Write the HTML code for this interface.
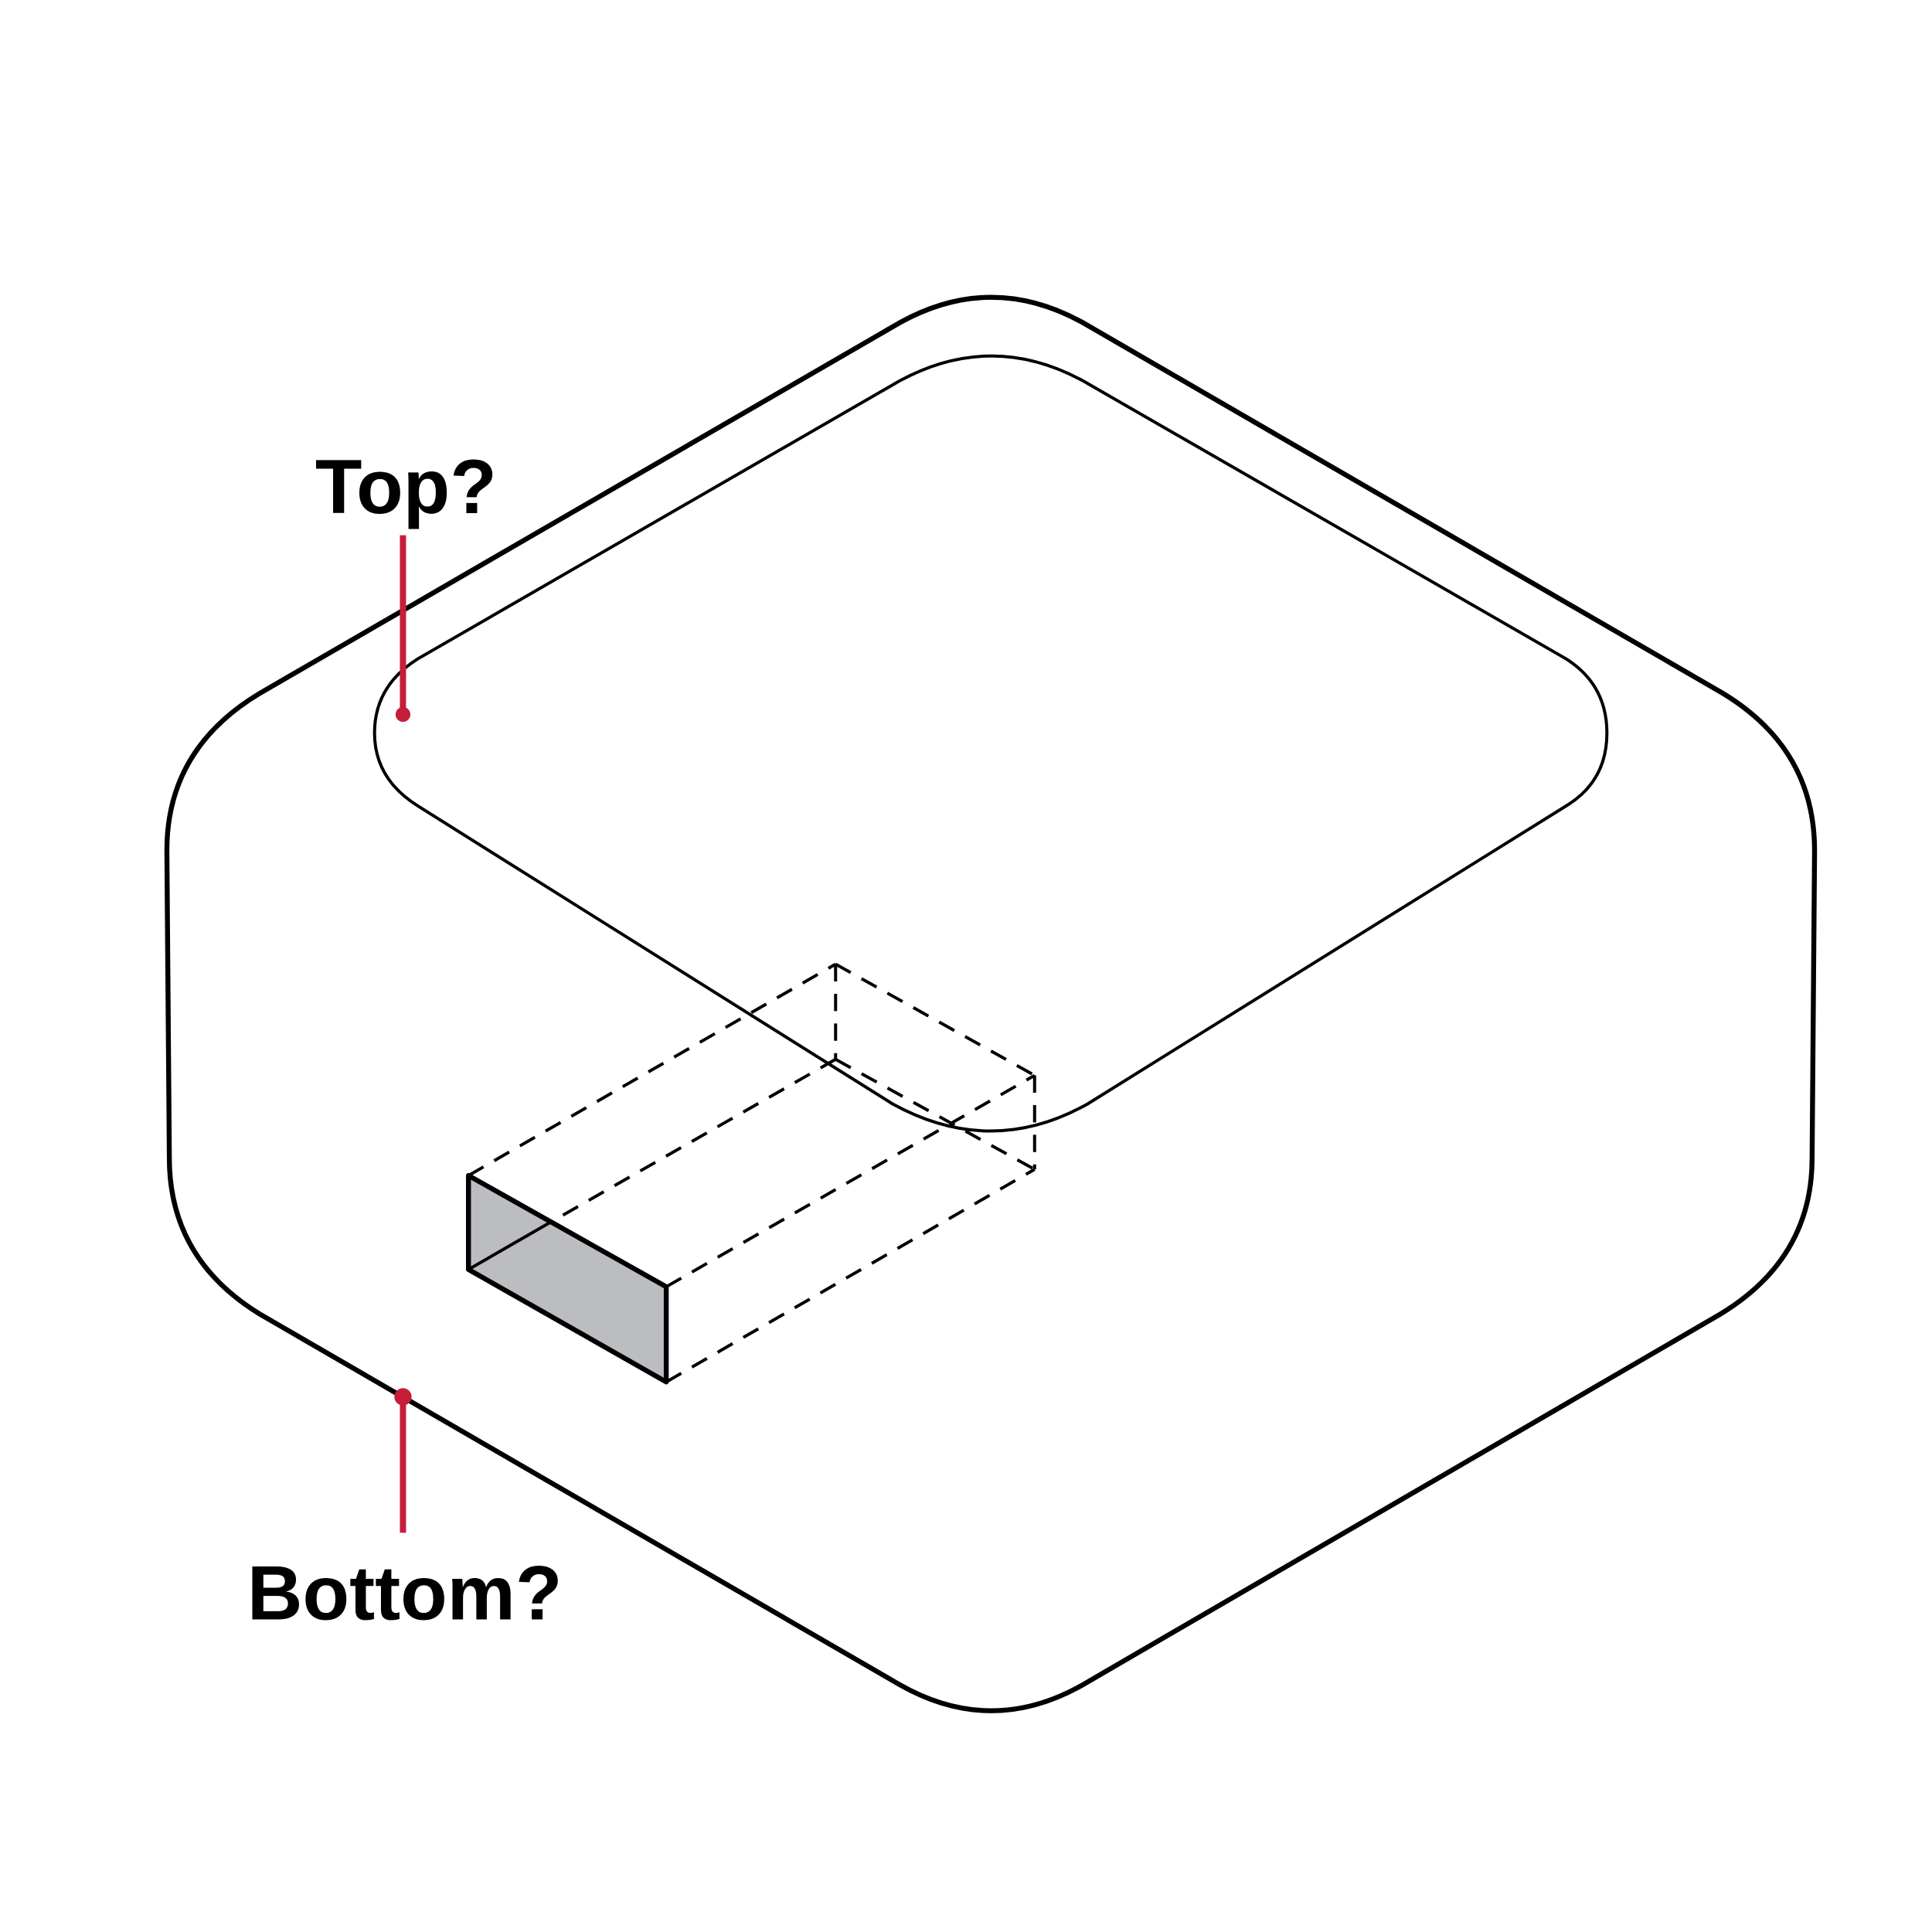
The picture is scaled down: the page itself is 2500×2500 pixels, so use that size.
<!DOCTYPE html>
<html><head><meta charset="utf-8"><style>
html,body{margin:0;padding:0;background:#fff;}
svg{display:block;}
text{font-family:"Liberation Sans",Arial,sans-serif;font-weight:bold;}
</style></head><body>
<svg width="2500" height="2500" viewBox="0 0 1563 1563" xmlns="http://www.w3.org/2000/svg">
<rect width="1563" height="1563" fill="#fff"/>
<path fill="none" stroke="#000" stroke-width="4"
 d="M728,261 Q802,220 876,261 L1394,561 Q1468,606 1468,688 L1466,937 Q1466,1018 1392,1063 L876,1363 Q802,1405 728,1363 L210,1063 Q137,1018 137,937 L135,688 Q135,606 210,561 Z"/>
<path fill="none" stroke="#000" stroke-width="2.5"
 d="M728,308 Q802,268 876,308 L1267,533 Q1300,554 1300,593 Q1300,632 1267,652 L880,893 Q802,937 722,893 L338,652 Q303,630 303,593 Q303,555 338,533 Z"/>
<g fill="none" stroke="#000" stroke-width="2.5" stroke-dasharray="14,10">
<line x1="379" y1="951" x2="676" y2="780"/>
<line x1="676" y1="780" x2="837" y2="870"/>
<line x1="676" y1="780" x2="676" y2="857"/>
<line x1="676" y1="857" x2="445" y2="989"/>
<line x1="676" y1="857" x2="837" y2="946"/>
<line x1="837" y1="870" x2="837" y2="946"/>
<line x1="539" y1="1041" x2="837" y2="870"/>
<line x1="539" y1="1118" x2="837" y2="946"/>
</g>
<polygon points="379,951 539,1041 539,1118 379,1027" fill="#bcbdc0" stroke="#000" stroke-width="4" stroke-linejoin="round"/>
<line x1="379" y1="1027" x2="445" y2="989" stroke="#000" stroke-width="2.5"/>
<g>
<line x1="326" y1="433" x2="326" y2="578" stroke="#c41e3a" stroke-width="5"/>
<circle cx="326" cy="578" r="6" fill="#c41e3a"/>
</g>
<g>
<line x1="326" y1="1130" x2="326" y2="1240" stroke="#c41e3a" stroke-width="5"/>
<circle cx="326" cy="1130" r="7" fill="#c41e3a"/>
</g>
<text x="255" y="415" font-size="62">Top?</text>
<text x="200" y="1310" font-size="62">Bottom?</text>
</svg>
</body></html>
